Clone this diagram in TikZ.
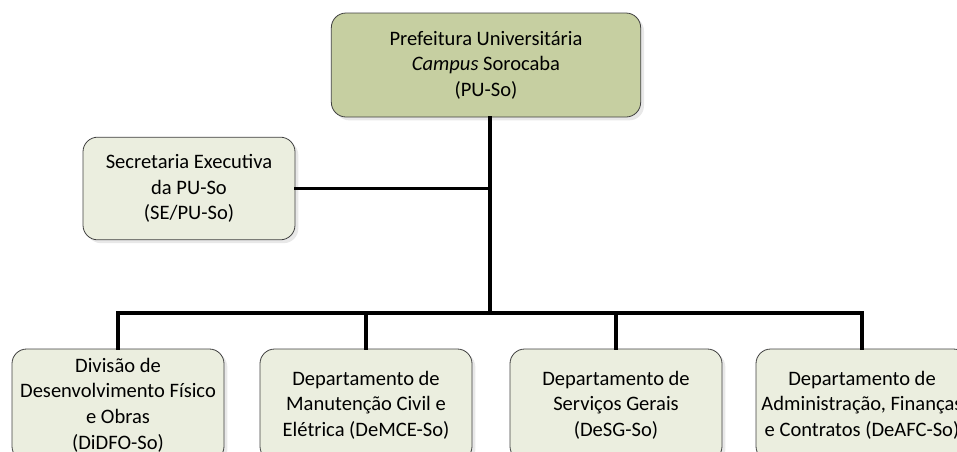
\documentclass[tikz,border=0pt]{standalone}
\usepackage{fontspec}
\setmainfont{Carlito}
\usetikzlibrary{shadows}
\definecolor{puGreen}{RGB}{198,207,161}
\definecolor{unitGreen}{RGB}{235,238,223}
\tikzset{
  unitbox/.style={draw=black!75, line width=0.6pt, rounded corners=11pt,
    fill=unitGreen, align=center, inner sep=2pt,
    drop shadow={shadow xshift=2.5pt, shadow yshift=-2.5pt, fill=black!18},
    font=\fontsize{15.4}{19.2}\selectfont},
  link/.style={line width=2.6pt, line cap=rect}
}

\begin{document}
\begin{tikzpicture}[x=0.75pt,y=-0.75pt]
\useasboundingbox (0,0) rectangle (957,451);
\clip (0,0) rectangle (957,451);

\node[unitbox, fill=puGreen, minimum width=232pt, minimum height=78pt] (pu) at (486,65)
  {Prefeitura Universitária\\\textit{Campus} Sorocaba\\(PU-So)};
\node[unitbox, minimum width=159pt, minimum height=77pt] (sec) at (189,188.5)
  {Secretaria Executiva\\da PU-So\\(SE/PU-So)};

\node[unitbox, minimum width=159pt, minimum height=84pt] (didfo) at (118,405)
  {Divisão de\\Desenvolvimento Físico\\e Obras\\(DiDFO-So)};
\node[unitbox, minimum width=159pt, minimum height=84pt] (demce) at (366,405)
  {Departamento de\\Manutenção Civil e\\Elétrica (DeMCE-So)};
\node[unitbox, minimum width=159pt, minimum height=84pt] (desg) at (616,405)
  {Departamento de\\Serviços Gerais\\(DeSG-So)};
\node[unitbox, minimum width=159pt, minimum height=84pt] (deafc) at (862,405)
  {Departamento de\\Administração, Finanças\\e Contratos (DeAFC-So)};

\coordinate (bus) at (490,313);
\draw[link] (pu.south -| bus) -- (bus);
\draw[link] (sec.east) -- (sec.east -| bus);
\draw[link] (didfo.north) |- (bus) -| (deafc.north);
\foreach \u in {demce,desg}
{
  \draw[link] (\u.north) -- (\u.north |- bus);
}
\end{tikzpicture}
\end{document}
